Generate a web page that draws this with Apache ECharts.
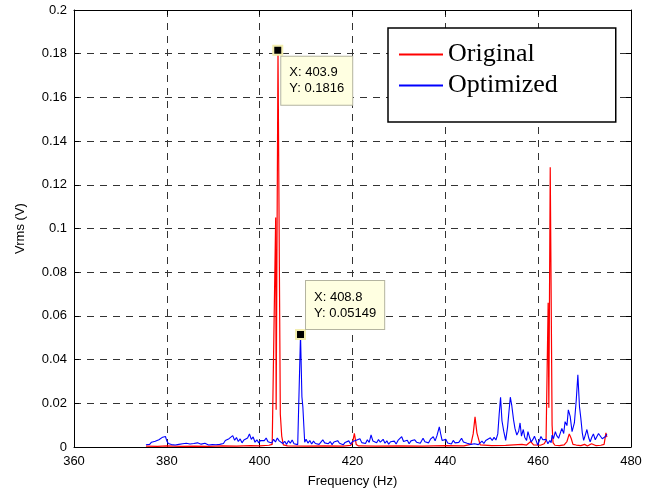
<!DOCTYPE html>
<html>
<head>
<meta charset="utf-8">
<script src="https://cdn.jsdelivr.net/npm/echarts@6/dist/echarts.min.js"></script>
<style>
  html, body { margin: 0; padding: 0; background: #fff; }
  #main { width: 662px; height: 497px; }
</style>
</head>
<body>
<div id="main"></div>
<script>
// frequency axis (Hz) and Vrms axis (V)
var xTicks = [360, 380, 400, 420, 440, 460, 480];
var yTicks = [0, 0.02, 0.04, 0.06, 0.08, 0.1, 0.12, 0.14, 0.16, 0.18, 0.2];

var seriesNames = ['Original', 'Optimized'];

// [frequency, Vrms]
var original = [
  [375.5, 0.0004], [378, 0.0003], [380, 0.0005], [383, 0.0003], [386, 0.0004],
  [389, 0.0003], [392, 0.0005], [395, 0.0004], [398, 0.0006], [400, 0.0005],
  [402, 0.0008], [402.7, 0.0012], [403.1, 0.002], [403.45, 0.105], [403.55, 0.017],
  [403.95, 0.1816], [404.45, 0.015], [404.75, 0.005], [405.1, 0.001], [406, 0.0005],
  [410, 0.0004], [414, 0.0005], [418, 0.0004], [419.6, 0.0007], [420.0, 0.0018],
  [420.4, 0.0062], [420.8, 0.0012], [421.3, 0.0005], [425, 0.0004], [430, 0.0005],
  [435, 0.0004], [440, 0.0006], [444, 0.0005], [445.5, 0.0012], [446.0, 0.006],
  [446.4, 0.0138], [446.8, 0.0065], [447.5, 0.001], [450, 0.0006], [453, 0.0007],
  [456.5, 0.0012], [457.5, 0.0009], [458.4, 0.0025], [459, 0.001], [460.5, 0.0008],
  [461.3, 0.0015], [461.7, 0.003], [462.15, 0.066], [462.3, 0.018], [462.6, 0.128],
  [463.0, 0.01], [463.2, 0.002], [463.6, 0.0008], [464.6, 0.0006], [465.6, 0.001],
  [466.2, 0.0025], [466.7, 0.006], [467.1, 0.004], [467.5, 0.0012], [468.2, 0.0009],
  [469.2, 0.0006], [470, 0.0012], [470.6, 0.0005], [471.5, 0.0015], [472.5, 0.0006],
  [473.5, 0.0008], [474.2, 0.0012], [474.6, 0.0065], [474.8, 0.0045]
];

var optimized = [
  [375.5, 0.001], [375.9, 0.0018], [376.3, 0.0012], [376.7, 0.0022], [377.1, 0.0015],
  [377.5, 0.0026], [377.9, 0.0019], [378.3, 0.0033], [378.7, 0.0028], [379.1, 0.0045],
  [379.4, 0.0036], [379.7, 0.0048], [380.0, 0.0028], [380.3, 0.0016], [380.6, 0.0024],
  [381.0, 0.0011], [381.4, 0.0019], [381.8, 0.0009], [382.2, 0.0016], [382.6, 0.0012],
  [383.0, 0.0008], [383.4, 0.0015], [383.8, 0.001], [384.2, 0.0017], [384.6, 0.0011],
  [385.0, 0.0014], [385.4, 0.0007], [385.8, 0.0016], [386.2, 0.0011], [386.6, 0.0019],
  [387.0, 0.001], [387.4, 0.0013], [387.8, 0.0008], [388.2, 0.0017], [388.6, 0.0012],
  [389.0, 0.0009], [389.4, 0.0016], [389.8, 0.0011], [390.2, 0.0018], [390.6, 0.001],
  [391.0, 0.0015], [391.4, 0.0012], [391.8, 0.0021], [392.2, 0.0016], [392.6, 0.003],
  [393.0, 0.0022], [393.4, 0.0038], [393.8, 0.0029], [394.2, 0.0052], [394.6, 0.0031],
  [395.0, 0.0043], [395.4, 0.0025], [395.8, 0.0037], [396.2, 0.0019], [396.6, 0.0032],
  [397.0, 0.0024], [397.4, 0.0041], [397.8, 0.006], [398.2, 0.0035], [398.6, 0.0046],
  [399.0, 0.0022], [399.4, 0.0033], [399.8, 0.0019], [400.2, 0.003], [400.6, 0.0021],
  [401.0, 0.0029], [401.4, 0.0041], [401.8, 0.0024], [402.2, 0.0031], [402.6, 0.0018],
  [403.0, 0.0035], [403.4, 0.0023], [403.8, 0.0041], [404.2, 0.0028], [404.6, 0.0037],
  [405.0, 0.0016], [405.4, 0.0026], [405.8, 0.0012], [406.2, 0.0029], [406.6, 0.0017],
  [407.0, 0.0032], [407.4, 0.0015], [407.8, 0.0024], [408.2, 0.0011], [408.45, 0.0012],
  [408.8, 0.05149], [409.1, 0.023], [409.3, 0.0185], [409.7, 0.0022], [410.0, 0.0035],
  [410.4, 0.0018], [410.8, 0.003], [411.2, 0.0014], [411.6, 0.0027], [412.0, 0.0016],
  [412.4, 0.0024], [412.8, 0.0012], [413.2, 0.0021], [413.6, 0.0033], [414.0, 0.0019],
  [414.4, 0.0028], [414.8, 0.0015], [415.2, 0.0025], [415.6, 0.0011], [416.0, 0.0023],
  [416.4, 0.0014], [416.8, 0.0029], [417.2, 0.0017], [417.6, 0.0024], [418.0, 0.001],
  [418.4, 0.0021], [418.8, 0.0016], [419.2, 0.0028], [419.6, 0.0013], [420.0, 0.0025],
  [420.4, 0.0018], [420.8, 0.0031], [421.2, 0.0022], [421.6, 0.0038], [422.0, 0.002],
  [422.4, 0.0029], [422.8, 0.0016], [423.2, 0.0033], [423.6, 0.0021], [424.0, 0.0055],
  [424.4, 0.0027], [424.8, 0.0036], [425.2, 0.0019], [425.6, 0.0034], [426.0, 0.0022],
  [426.6, 0.0035], [427.0, 0.0017], [427.4, 0.0028], [427.8, 0.0013], [428.2, 0.0024],
  [428.6, 0.0016], [429.0, 0.0027], [429.4, 0.0014], [429.8, 0.003], [430.2, 0.0021],
  [430.6, 0.0047], [431.0, 0.0025], [431.4, 0.0018], [431.8, 0.0031], [432.2, 0.0015],
  [432.6, 0.0028], [433.0, 0.0019], [433.4, 0.0033], [433.8, 0.0022], [434.2, 0.0029],
  [434.6, 0.0017], [435.2, 0.004], [435.6, 0.0024], [436.0, 0.0031], [436.4, 0.0019],
  [436.8, 0.0036], [437.4, 0.0047], [437.8, 0.0028], [438.2, 0.0052], [438.7, 0.0092],
  [439.0, 0.006], [439.3, 0.003], [439.7, 0.0022], [440.1, 0.0035], [440.5, 0.0018],
  [440.9, 0.0027], [441.3, 0.0014], [441.7, 0.003], [442.1, 0.0019], [442.5, 0.0026],
  [442.9, 0.0021], [443.5, 0.004], [443.9, 0.0023], [444.3, 0.0032], [444.7, 0.0017],
  [445.1, 0.0026], [445.5, 0.0012], [445.9, 0.002], [446.3, 0.0015], [446.7, 0.0024],
  [447.1, 0.0011], [447.5, 0.0019], [447.9, 0.0027], [448.3, 0.0016], [448.7, 0.003],
  [449.1, 0.0021], [449.7, 0.0042], [450.1, 0.003], [450.5, 0.0044], [450.9, 0.0032],
  [451.3, 0.006], [451.6, 0.015], [451.9, 0.0228], [452.2, 0.012], [452.6, 0.007],
  [453.0, 0.003], [453.4, 0.009], [453.7, 0.016], [454.0, 0.0228], [454.3, 0.0192],
  [454.7, 0.0124], [455.0, 0.0085], [455.4, 0.0055], [455.8, 0.0072], [456.1, 0.011],
  [456.4, 0.005], [456.8, 0.008], [457.1, 0.0045], [457.5, 0.003], [457.8, 0.007],
  [458.2, 0.0041], [458.5, 0.0023], [458.9, 0.0036], [459.2, 0.0049], [459.6, 0.0027],
  [459.9, 0.0009], [460.3, 0.0031], [460.6, 0.0048], [461.0, 0.0033], [461.3, 0.0024],
  [461.7, 0.0035], [462.1, 0.0015], [462.5, 0.003], [462.8, 0.002], [463.0, 0.0055],
  [463.3, 0.0038], [463.7, 0.007], [464.0, 0.0052], [464.4, 0.004], [464.8, 0.0066],
  [465.1, 0.0085], [465.5, 0.0062], [465.8, 0.0116], [466.2, 0.0098], [466.5, 0.017],
  [466.9, 0.014], [467.3, 0.007], [467.8, 0.011], [468.2, 0.0213], [468.55, 0.033],
  [468.9, 0.0185], [469.2, 0.013], [469.5, 0.0065], [469.8, 0.003], [470.2, 0.0058],
  [470.5, 0.008], [470.9, 0.0041], [471.2, 0.0024], [471.6, 0.0047], [471.9, 0.006],
  [472.3, 0.0033], [472.7, 0.004], [473.0, 0.0062], [473.4, 0.0055], [473.8, 0.0038],
  [474.1, 0.003], [474.5, 0.0048], [474.8, 0.006]
];

// data tips shown on the plot
var tips = [
  { series: 0, coord: [403.9, 0.1816], text: 'X: 403.9\nY: 0.1816', pos: [9, 12] },
  { series: 1, coord: [408.8, 0.05149], text: 'X: 408.8\nY: 0.05149', pos: [11, -48] }
];

var chart = echarts.init(document.getElementById('main'), null, { renderer: 'canvas' });

var tickFont = { fontFamily: 'Liberation Sans, Arial, sans-serif', fontSize: 13, color: '#000' };

function tipPoints(idx) {
  return tips.filter(function (t) { return t.series === idx; }).map(function (t) {
    return {
      coord: t.coord,
      symbol: 'rect',
      symbolSize: 9,
      itemStyle: { color: '#000', borderColor: '#f3eeb0', borderWidth: 2 },
      label: {
        show: true,
        formatter: t.text,
        position: t.pos,
        align: 'left',
        verticalAlign: 'top',
        fontFamily: 'Liberation Sans, Arial, sans-serif',
        fontSize: 13,
        lineHeight: 16,
        color: '#000',
        backgroundColor: '#ffffe1',
        borderColor: '#b4b4a0',
        borderWidth: 1,
        padding: [8, 8, 8, 8]
      }
    };
  });
}

chart.setOption({
  animation: false,
  backgroundColor: '#fff',
  grid: { left: 74, right: 31, top: 10, bottom: 50, containLabel: false },
  legend: {
    orient: 'vertical',
    left: 388,
    top: 28,
    data: seriesNames,
    icon: 'rect',
    itemWidth: 44,
    itemHeight: 2,
    itemGap: 0,
    padding: [11, 58, 21, 11],
    backgroundColor: '#fff',
    borderColor: '#000',
    borderWidth: 1.5,
    borderRadius: 0,
    selectedMode: false,
    textStyle: {
      fontFamily: 'Liberation Serif, Times New Roman, serif',
      fontSize: 26,
      lineHeight: 31,
      color: '#000'
    }
  },
  xAxis: [{
    type: 'value',
    min: xTicks[0],
    max: xTicks[xTicks.length - 1],
    interval: 20,
    name: 'Frequency (Hz)',
    nameLocation: 'middle',
    nameGap: 28,
    nameTextStyle: tickFont,
    axisLine: { show: true, onZero: false, lineStyle: { color: '#000', width: 1 } },
    axisTick: { show: true, inside: true, length: 5, lineStyle: { color: '#000' } },
    axisLabel: Object.assign({ margin: 8 }, tickFont),
    splitLine: { show: true, lineStyle: { color: '#333', type: [7, 6], width: 1 } }
  }, {
    type: 'value',
    position: 'top',
    min: xTicks[0],
    max: xTicks[xTicks.length - 1],
    interval: 20,
    axisLine: { show: true, onZero: false, lineStyle: { color: '#000', width: 1 } },
    axisTick: { show: true, inside: true, length: 5, lineStyle: { color: '#000' } },
    axisLabel: { show: false },
    splitLine: { show: false }
  }],
  yAxis: [{
    type: 'value',
    min: yTicks[0],
    max: yTicks[yTicks.length - 1],
    interval: 0.02,
    name: 'Vrms (V)',
    nameLocation: 'middle',
    nameGap: 47,
    nameRotate: 90,
    nameTextStyle: tickFont,
    axisLine: { show: true, onZero: false, lineStyle: { color: '#000', width: 1 } },
    axisTick: { show: true, inside: true, length: 5, lineStyle: { color: '#000' } },
    axisLabel: Object.assign({ margin: 7 }, tickFont),
    splitLine: { show: true, lineStyle: { color: '#333', type: [7, 6], width: 1 } }
  }, {
    type: 'value',
    position: 'right',
    min: yTicks[0],
    max: yTicks[yTicks.length - 1],
    interval: 0.02,
    axisLine: { show: true, onZero: false, lineStyle: { color: '#000', width: 1 } },
    axisTick: { show: true, inside: true, length: 5, lineStyle: { color: '#000' } },
    axisLabel: { show: false },
    splitLine: { show: false }
  }],
  series: [{
    name: seriesNames[0],
    type: 'line',
    data: original,
    showSymbol: false,
    symbol: 'none',
    clip: true,
    lineStyle: { color: '#ff0000', width: 1.2 },
    itemStyle: { color: '#ff0000' },
    markPoint: { silent: true, data: tipPoints(0) }
  }, {
    name: seriesNames[1],
    type: 'line',
    data: optimized,
    showSymbol: false,
    symbol: 'none',
    clip: true,
    lineStyle: { color: '#0000ff', width: 1.1 },
    itemStyle: { color: '#0000ff' },
    markPoint: { silent: true, data: tipPoints(1) }
  }]
});
</script>
</body>
</html>
